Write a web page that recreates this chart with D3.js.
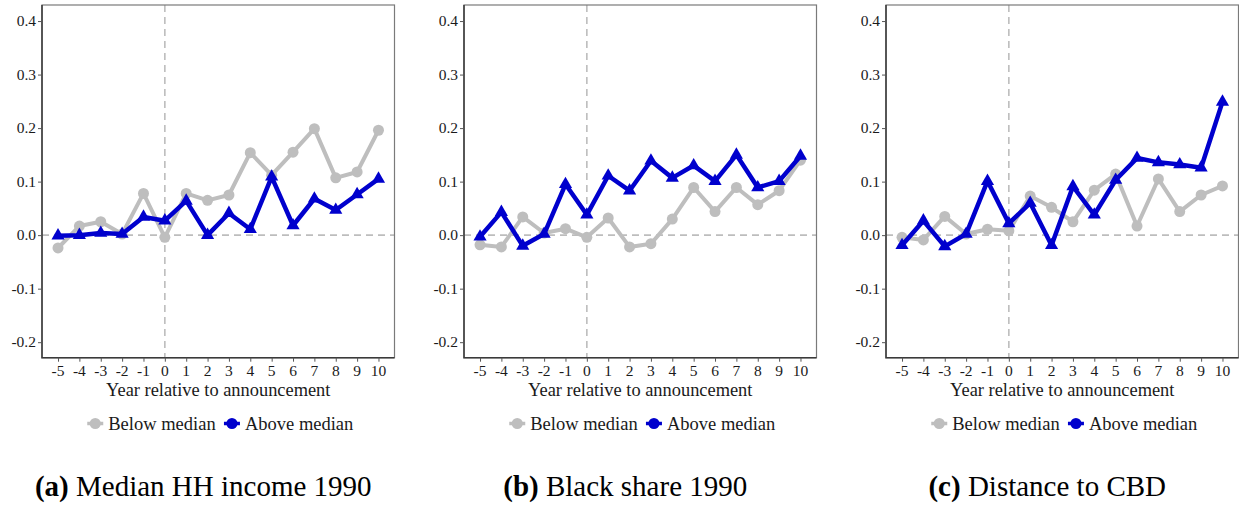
<!DOCTYPE html>
<html>
<head>
<meta charset="utf-8">
<script src="https://cdn.jsdelivr.net/npm/d3@7"></script>
<style>
html, body { margin: 0; padding: 0; background: #fff; font-family: 'Liberation Serif'; }
.lbl { font-family: 'Liberation Serif'; }
</style>
</head>
<body>
<svg id="fig" width="1239" height="506" font-family="Liberation Serif"></svg>
<script>
// Event-time years
const years = [-5, -4, -3, -2, -1, 0, 1, 2, 3, 4, 5, 6, 7, 8, 9, 10];
const yTicks = [-0.2, -0.1, 0.0, 0.1, 0.2, 0.3, 0.4];
const yTickLabels = ["-0.2", "-0.1", "0.0", "0.1", "0.2", "0.3", "0.4"];
const seriesNames = ["Below median", "Above median"];

const panelTags = ["(a)", "(b)", "(c)"];
const panelTitles = ["Median HH income 1990", "Black share 1990", "Distance to CBD"];
const axisTitle = "Year relative to announcement";

// (a) Median HH income 1990
const incomeBelow = [-0.024, 0.017, 0.025, 0.002, 0.078, -0.004, 0.078, 0.065, 0.075, 0.154, 0.112, 0.155, 0.199, 0.107, 0.118, 0.196];
const incomeAbove = [-0.001, 0.000, 0.004, 0.002, 0.034, 0.027, 0.064, 0.000, 0.041, 0.011, 0.109, 0.018, 0.068, 0.047, 0.076, 0.105];

// (b) Black share 1990
const blackBelow = [-0.018, -0.022, 0.034, 0.004, 0.012, -0.004, 0.032, -0.022, -0.016, 0.030, 0.089, 0.044, 0.089, 0.057, 0.083, 0.140];
const blackAbove = [-0.003, 0.043, -0.020, 0.002, 0.095, 0.038, 0.111, 0.083, 0.139, 0.107, 0.130, 0.101, 0.150, 0.089, 0.101, 0.148];

// (c) Distance to CBD
const cbdBelow = [-0.004, -0.009, 0.035, 0.002, 0.011, 0.008, 0.073, 0.052, 0.025, 0.084, 0.114, 0.017, 0.105, 0.044, 0.075, 0.092];
const cbdAbove = [-0.019, 0.027, -0.021, 0.002, 0.101, 0.022, 0.060, -0.019, 0.091, 0.038, 0.103, 0.144, 0.136, 0.132, 0.126, 0.249];

const panels = [
  { below: incomeBelow, above: incomeAbove },
  { below: blackBelow, above: blackAbove },
  { below: cbdBelow, above: cbdAbove }
];

const GREY = "#bebebe";
const BLUE = "#0000cd";

const svg = d3.select("#fig");
const boxLefts = [42, 464, 886];
const boxW = 352.5, boxTop = 5, boxBottom = 357.7;

const marks = svg.append("g");   // lines, frames, points
const labels = svg.append("g");  // all text, drawn on top

// one serif text label at the svg's label layer
function label(x, y, str, size, anchor) {
  return labels.append("text")
    .attr("class", "lbl")
    .attr("x", x).attr("y", y)
    .attr("text-anchor", anchor || "start")
    .attr("font-family", "Liberation Serif")
    .style("font-family", "'Liberation Serif'")
    .style("font-size", size + "px")
    .attr("fill", "#1a1a1a")
    .text(str);
}

panels.forEach((p, i) => {
  const x0 = boxLefts[i];
  const x = d3.scaleLinear().domain([-5.75, 10.75]).range([x0, x0 + boxW]);
  const y = d3.scaleLinear().domain([-0.229, 0.43]).range([boxBottom, boxTop]);
  const cx = x0 + boxW / 2;
  const g = marks.append("g");

  // reference lines at zero
  g.append("line")
    .attr("x1", x0).attr("x2", x0 + boxW)
    .attr("y1", y(0)).attr("y2", y(0))
    .attr("stroke", "#bdbdbd").attr("stroke-width", 1.6).attr("stroke-dasharray", "7,5");
  g.append("line")
    .attr("x1", x(0)).attr("x2", x(0))
    .attr("y1", boxTop).attr("y2", boxBottom)
    .attr("stroke", "#bdbdbd").attr("stroke-width", 1.6).attr("stroke-dasharray", "7,5");

  // panel frame
  g.append("rect")
    .attr("x", x0).attr("y", boxTop).attr("width", boxW).attr("height", boxBottom - boxTop)
    .attr("fill", "none").attr("stroke", "#7a7a7a").attr("stroke-width", 1.2);
  g.append("path")
    .attr("d", `M${x0},${boxTop}V${boxBottom}H${x0 + boxW}`)
    .attr("fill", "none").attr("stroke", "#3a3a3a").attr("stroke-width", 1.5);

  // axis tick marks from d3 axes; labels placed from the same scales
  const ya = g.append("g").attr("transform", `translate(${x0},0)`)
    .call(d3.axisLeft(y).tickValues(yTicks).tickSize(4).tickFormat(""));
  ya.select(".domain").remove();
  ya.selectAll(".tick line").attr("stroke", "#555");
  ya.selectAll("text").remove();
  yTicks.forEach((v, k) => label(x0 - 6, y(v) + 5, yTickLabels[k], 15.5, "end"));

  const xa = g.append("g").attr("transform", `translate(0,${boxBottom})`)
    .call(d3.axisBottom(x).tickValues(years).tickSize(4).tickFormat(""));
  xa.select(".domain").remove();
  xa.selectAll(".tick line").attr("stroke", "#555");
  xa.selectAll("text").remove();
  years.forEach(v => label(x(v), boxBottom + 18, v < 0 ? "-" + Math.abs(v) : String(v), 15.5, "middle"));

  label(cx, 396, axisTitle, 18.4, "middle");

  const line = d3.line().x((d, k) => x(years[k])).y(d => y(d));

  // below-median series
  g.append("path").datum(p.below)
    .attr("d", line).attr("fill", "none")
    .attr("stroke", GREY).attr("stroke-width", 4).attr("stroke-linejoin", "round");
  g.selectAll(".pb").data(p.below).enter().append("circle")
    .attr("cx", (d, k) => x(years[k])).attr("cy", d => y(d))
    .attr("r", 5.5).attr("fill", GREY);

  // above-median series
  g.append("path").datum(p.above)
    .attr("d", line).attr("fill", "none")
    .attr("stroke", BLUE).attr("stroke-width", 4.5).attr("stroke-linejoin", "round");
  const tri = d3.symbol().type(d3.symbolTriangle).size(75);
  g.selectAll(".pa").data(p.above).enter().append("path")
    .attr("d", tri)
    .attr("transform", (d, k) => `translate(${x(years[k])},${y(d)})`)
    .attr("fill", BLUE);

  // legend
  const legY = 423.5;
  const keys = [
    { color: GREY, kx: cx - 123, label: seriesNames[0] },
    { color: BLUE, kx: cx + 13.7, label: seriesNames[1] }
  ];
  keys.forEach(k => {
    g.append("line")
      .attr("x1", k.kx - 8).attr("x2", k.kx + 8)
      .attr("y1", legY).attr("y2", legY)
      .attr("stroke", k.color).attr("stroke-width", 3.5);
    g.append("circle").attr("cx", k.kx).attr("cy", legY).attr("r", 5.5).attr("fill", k.color);
    label(k.kx + 13, 430, k.label, 18.5, "start");
  });

  // caption
  const cap = label(cx - 15, 496, "", 29, "middle").attr("fill", "#000");
  cap.append("tspan").style("font-weight", "bold").text(panelTags[i]);
  cap.append("tspan").text(" " + panelTitles[i]);
});
</script>
</body>
</html>
